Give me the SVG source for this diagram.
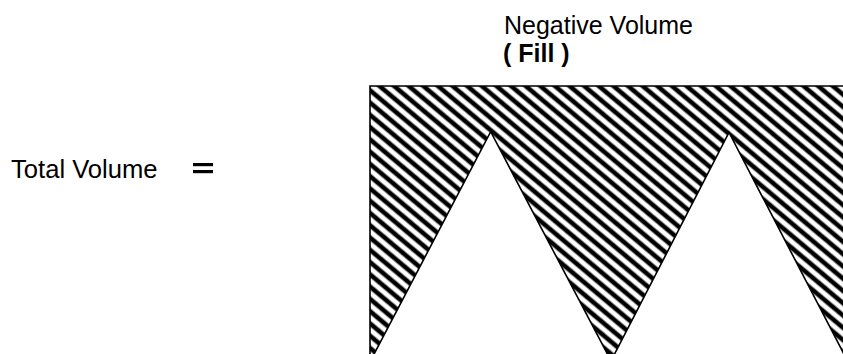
<svg xmlns="http://www.w3.org/2000/svg" width="843" height="354" viewBox="0 0 843 354">
  <style>
    .lbl { font-family: "Liberation Sans", Arial, sans-serif; font-size: 25px; fill: #000; }
    .big { font-size: 25.6px; }
    .bold { font-weight: bold; }
    .edge { fill: #fff; stroke: #000; stroke-width: 1.6; }
  </style>
  <defs>
    <linearGradient id="stripeGrad" x1="0" y1="0" x2="0" y2="1">
      <stop offset="0" stop-color="#fff"/>
      <stop offset="0.18" stop-color="#fff"/>
      <stop offset="0.34" stop-color="#000"/>
      <stop offset="0.66" stop-color="#000"/>
      <stop offset="0.82" stop-color="#fff"/>
      <stop offset="1" stop-color="#fff"/>
    </linearGradient>
    <pattern id="hatch" patternUnits="userSpaceOnUse" width="20" height="9.4" patternTransform="rotate(40 370 86)">
      <rect x="0" y="0" width="20" height="9.4" fill="url(#stripeGrad)"/>
    </pattern>
  </defs>
  <rect width="843" height="354" fill="#fff"/>
  <g id="total-volume">
    <text class="lbl big" x="11" y="178">Total Volume</text>
    <rect x="193" y="163" width="20" height="3.2" fill="#000"/>
    <rect x="193" y="170" width="20" height="3.2" fill="#000"/>
  </g>
  <g id="negative-volume-label">
    <text class="lbl" x="504" y="34">Negative Volume</text>
    <text class="lbl bold" x="503" y="62">( Fill )</text>
  </g>
  <g id="fill-region">
    <rect x="370" y="86" width="480" height="280" fill="url(#hatch)"/>
    <path d="M370 360 V86 H850" fill="none" stroke="#000" stroke-width="1.6"/>
    <polygon class="edge" points="372,358 490.7,131.7 609.5,358"/>
    <polygon class="edge" points="612.5,358 729,132.5 846,358"/>
  </g>
</svg>
